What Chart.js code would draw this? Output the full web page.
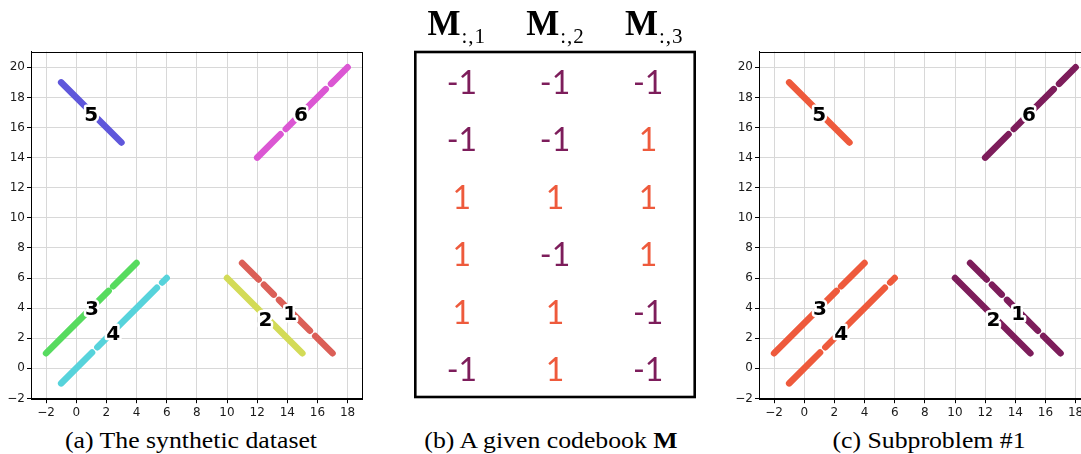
<!DOCTYPE html>
<html><head><meta charset="utf-8">
<script src="https://cdn.jsdelivr.net/npm/chart.js@4.4.1/dist/chart.umd.min.js"></script>
<style>
html,body{margin:0;padding:0;background:#fff;overflow:hidden;width:1081px;height:454px;position:relative;}
canvas{position:absolute;display:block;}
.cap{position:absolute;top:428.7px;font-family:"Liberation Serif","Times New Roman",serif;font-size:23px;line-height:23px;color:#000;white-space:nowrap;transform:translateX(-50%) scaleX(1.12);}
</style></head><body>
<canvas id="ca" width="375" height="425" style="left:0px;top:0px;width:375px;height:425px"></canvas>
<canvas id="cb" width="310" height="410" style="left:400px;top:0px;width:310px;height:410px"></canvas>
<canvas id="cc" width="375" height="425" style="left:728.3px;top:0px;width:375px;height:425px"></canvas>
<div class="cap" id="capA" style="left:190.5px"></div>
<div class="cap" id="capB" style="left:551px"></div>
<div class="cap" id="capC" style="left:928.7px"></div>
<script>
// ---------- data ----------
const xTicks = [-2, 0, 2, 4, 6, 8, 10, 12, 14, 16, 18];
const yTicks = [-2, 0, 2, 4, 6, 8, 10, 12, 14, 16, 18, 20];
const clusterIds = ['1', '2', '3', '4', '5', '6'];
// each cluster: list of visible pieces [[x0,y0],[x1,y1]]
const cluster1 = [[[11, 7], [12.1, 5.9]], [[12.45, 5.55], [13.1, 4.9]], [[13.45, 4.55], [15.5, 2.5]], [[15.85, 2.15], [17, 1]]];
const cluster2 = [[[10, 6], [15, 1]]];
const cluster3 = [[[-2, 1], [2.15, 5.15]], [[2.45, 5.45], [4, 7]]];
const cluster4 = [[[-1, -1], [1.05, 1.05]], [[1.4, 1.4], [5.35, 5.35]], [[5.7, 5.7], [6, 6]]];
const cluster5 = [[[-1, 19], [3, 15]]];
const cluster6 = [[[12, 14], [13.55, 15.55]], [[13.9, 15.9], [16.55, 18.55]], [[16.9, 18.9], [18, 20]]];
const clusters = [cluster1, cluster2, cluster3, cluster4, cluster5, cluster6];
const labelX = [14.2, 12.55, 1.05, 2.45, 1.0, 14.9];
const labelY = [3.7, 3.3, 4.05, 2.4, 16.9, 16.9];
const paletteA = ['#db5f57', '#d3db57', '#57db5f', '#57d3db', '#5f57db', '#db57d3'];
// codebook M (rows = classes, columns = subproblems)
const codebook = [
  [-1, -1, -1],
  [-1, -1, 1],
  [1, 1, 1],
  [1, -1, 1],
  [1, 1, -1],
  [-1, 1, -1]
];
const headerMain = ['M', 'M', 'M'];
const headerSub = [':,1', ':,2', ':,3'];
const codeColor = { '-1': '#7d1d5b', '1': '#ee5a3c' };
const subproblemColumn = 0;
const captionA = '(a) The synthetic dataset';
const captionB = '(b) A given codebook ';
const captionBm = 'M';
const captionC = '(c) Subproblem #1';

// ---------- helpers ----------
const fmt = v => String(v).replace('-', '\u2212');

const framePlugin = {
  id: 'frame',
  afterDraw(chart) {
    const a = chart.chartArea, ctx = chart.ctx;
    ctx.save();
    ctx.strokeStyle = '#000';
    ctx.lineWidth = 1;
    const l = Math.round(a.left) + 0.5, t = Math.round(a.top) + 0.5;
    const r = Math.round(a.right) - 0.5, b = Math.round(a.bottom) - 0.5;
    ctx.strokeRect(l, t, r - l, b - t);
    ctx.restore();
  }
};

const labelPlugin = {
  id: 'clabels',
  afterDatasetsDraw(chart) {
    const ctx = chart.ctx, xs = chart.scales.x, ys = chart.scales.y;
    ctx.save();
    ctx.font = 'bold 20px "DejaVu Sans"';
    ctx.textAlign = 'center';
    ctx.textBaseline = 'alphabetic';
    ctx.lineJoin = 'round';
    clusterIds.forEach((id, i) => {
      const px = xs.getPixelForValue(labelX[i]);
      const py = ys.getPixelForValue(labelY[i]) + 7.3;
      ctx.strokeStyle = '#fff';
      ctx.lineWidth = 5;
      ctx.strokeText(id, px, py);
      ctx.fillStyle = '#000';
      ctx.fillText(id, px, py);
    });
    ctx.restore();
  }
};

function makeScatter(id, colors) {
  const datasets = [];
  clusters.forEach((segs, ci) => segs.forEach(s => datasets.push({
    data: s.map(p => ({ x: p[0], y: p[1] })),
    showLine: true,
    borderColor: colors[ci],
    backgroundColor: colors[ci],
    borderWidth: 6.5,
    borderCapStyle: 'round',
    pointRadius: 0,
    pointHoverRadius: 0
  })));
  const tickFont = { family: '"DejaVu Sans"', size: 12 };
  return new Chart(document.getElementById(id), {
    type: 'scatter',
    data: { datasets },
    options: {
      responsive: false, animation: false, events: [],
      layout: { padding: { top: 51.5, right: 12.3, left: 0, bottom: 0 } },
      plugins: { legend: { display: false }, tooltip: { enabled: false } },
      scales: {
        x: {
          type: 'linear', min: -3, max: 19,
          afterBuildTicks: s => { s.ticks = xTicks.map(v => ({ value: v })); },
          afterFit: s => { s.height = 25.8; },
          ticks: { autoSkip: false, maxRotation: 0, padding: 2, color: '#1a1a1a', font: tickFont, callback: v => fmt(v) },
          grid: { color: '#d8d8d8', lineWidth: 1, tickColor: '#000', tickLength: 4, tickWidth: 1 },
          border: { display: true, color: '#000', width: 1 }
        },
        y: {
          type: 'linear', min: -2.05, max: 21.05,
          afterBuildTicks: s => { s.ticks = yTicks.map(v => ({ value: v })); },
          afterFit: s => { s.width = 31; },
          ticks: { autoSkip: false, padding: 2, color: '#1a1a1a', font: tickFont, callback: v => fmt(v) },
          grid: { color: '#d8d8d8', lineWidth: 1, tickColor: '#000', tickLength: 4, tickWidth: 1 },
          border: { display: true, color: '#000', width: 1 }
        }
      }
    },
    plugins: [labelPlugin, framePlugin]
  });
}

makeScatter('ca', paletteA);
const paletteC = codebook.map(row => codeColor[String(row[subproblemColumn])]);
makeScatter('cc', paletteC);

// ---------- codebook panel ----------
const cells = [];
codebook.forEach((row, r) => row.forEach((v, c) => cells.push({ x: c + 1, y: r + 1, v })));

const codebookPlugin = {
  id: 'codebook',
  afterDatasetsDraw(chart) {
    const ctx = chart.ctx, a = chart.chartArea, xs = chart.scales.x;
    const meta = chart.getDatasetMeta(0);
    ctx.save();
    // values
    ctx.font = '32px Lato';
    ctx.textAlign = 'center';
    ctx.textBaseline = 'alphabetic';
    meta.data.forEach((el, i) => {
      const v = cells[i].v;
      ctx.fillStyle = codeColor[String(v)];
      ctx.fillText(String(v), el.x, el.y + 12.8);
    });
    // frame
    ctx.strokeStyle = '#000';
    ctx.lineWidth = 2.6;
    ctx.strokeRect(a.left, a.top, a.right - a.left, a.bottom - a.top);
    // headers
    const colW = xs.getPixelForValue(2) - xs.getPixelForValue(1);
    headerMain.forEach((m, c) => {
      const cx = xs.getPixelForValue(c + 1) + (c - 1) * 0.06 * colW;
      ctx.letterSpacing = '0px';
      ctx.font = 'bold 35px "Liberation Serif"';
      const wM = ctx.measureText(m).width;
      ctx.font = '21px "Liberation Serif"';
      ctx.letterSpacing = '1px';
      const wS = ctx.measureText(headerSub[c]).width;
      const x0 = cx - (wM + wS) / 2;
      ctx.textAlign = 'left';
      ctx.fillStyle = '#000';
      ctx.letterSpacing = '0px';
      ctx.font = 'bold 35px "Liberation Serif"';
      ctx.fillText(m, x0, 35);
      ctx.font = '21px "Liberation Serif"';
      ctx.letterSpacing = '1px';
      ctx.fillText(headerSub[c], x0 + wM + 1, 43);
      ctx.letterSpacing = '0px';
    });
    ctx.restore();
  }
};

new Chart(document.getElementById('cb'), {
  type: 'scatter',
  data: { datasets: [{ data: cells.map(d => ({ x: d.x, y: d.y })), pointRadius: 0, pointHoverRadius: 0 }] },
  options: {
    responsive: false, animation: false, events: [],
    layout: { padding: { left: 15.3, right: 15.3, top: 52, bottom: 13 } },
    plugins: { legend: { display: false }, tooltip: { enabled: false } },
    scales: {
      x: { type: 'linear', display: false, min: 0.5, max: 3.5 },
      y: { type: 'linear', display: false, min: 0.5, max: 6.5, reverse: true }
    }
  },
  plugins: [codebookPlugin]
});

// ---------- captions ----------
document.getElementById('capA').textContent = captionA;
const capB = document.getElementById('capB');
capB.textContent = captionB;
const bm = document.createElement('b');
bm.textContent = captionBm;
capB.appendChild(bm);
document.getElementById('capC').textContent = captionC;
</script>
</body></html>
